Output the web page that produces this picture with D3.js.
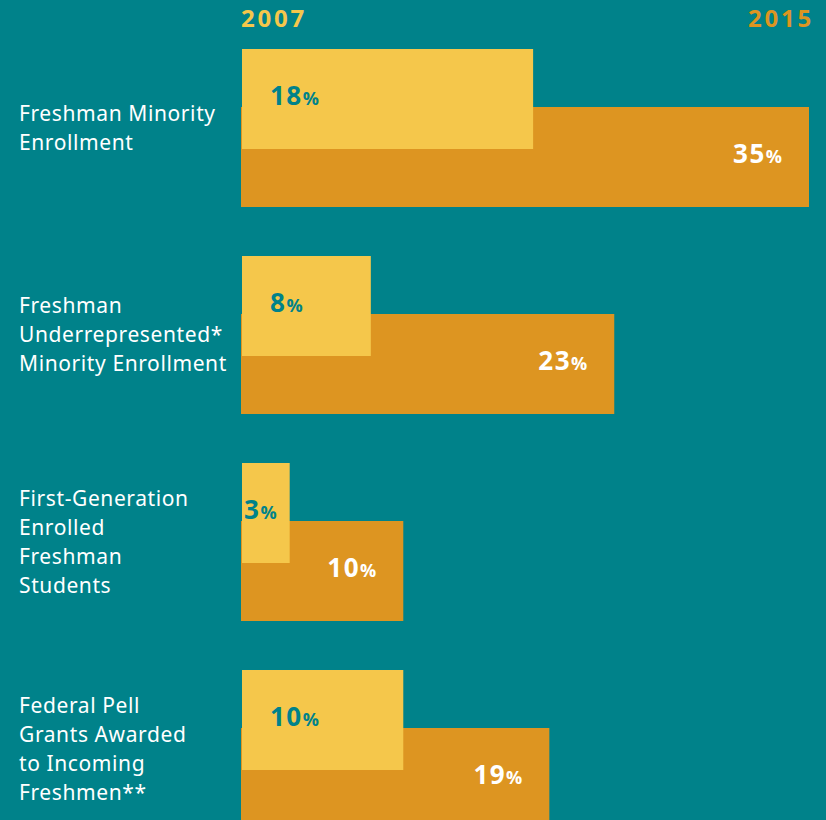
<!DOCTYPE html>
<html>
<head>
<meta charset="UTF-8">
<style>
  body { margin: 0; background: #00828a; }
  svg { display: block; }
  .cat { font-family: 'Noto Sans', sans-serif; font-size: 21px; fill: white; letter-spacing: 0.6px; }
  .year { font-family: 'Open Sans', sans-serif; font-weight: 700; font-size: 24px; letter-spacing: 2.8px; }
  .val { font-family: 'Open Sans', sans-serif; font-weight: 700; font-size: 26px; letter-spacing: 1.5px; }
  .pct { font-size: 18px; letter-spacing: 0; }
</style>
</head>
<body>
<script src="https://d3js.org/d3.v7.min.js"></script>
<script>
const categories = [
  ["Freshman Minority", "Enrollment"],
  ["Freshman", "Underrepresented*", "Minority Enrollment"],
  ["First-Generation", "Enrolled", "Freshman", "Students"],
  ["Federal Pell", "Grants Awarded", "to Incoming", "Freshmen**"]
];
const years = ["2007", "2015"];
const values2007 = [18, 8, 3, 10];
const values2015 = [35, 23, 10, 19];

const width = 826, height = 820;
const colBg = "#00828a", col07 = "#f5c74b", col15 = "#dd9521";

const svg = d3.select("body").append("svg")
  .attr("width", width).attr("height", height);

svg.append("rect").attr("width", width).attr("height", height).attr("fill", colBg);

const x = d3.scaleLinear().domain([0, 35]).range([241, 809]);
const y = d3.scaleBand().domain(d3.range(categories.length)).range([49, 49 + 207 * 4]);
const barH = 100, offset = 58;

// year headers
svg.append("text").attr("class", "year").attr("x", 241).attr("y", 27)
  .attr("fill", col07).text(years[0]);
svg.append("text").attr("class", "year").attr("x", 814).attr("y", 27)
  .attr("text-anchor", "end").attr("fill", col15).text(years[1]);

const g = svg.selectAll("g.grp").data(categories).join("g").attr("class", "grp");

// 2015 bars first, 2007 on top
g.append("rect")
  .attr("x", x(0)).attr("y", (d, i) => y(i) + offset)
  .attr("width", (d, i) => x(values2015[i]) - x(0)).attr("height", barH)
  .attr("fill", col15);
g.append("rect")
  .attr("x", x(0) + 1).attr("y", (d, i) => y(i))
  .attr("width", (d, i) => x(values2007[i]) - x(0) - 1).attr("height", barH)
  .attr("fill", col07);

// value labels
function label(sel, getVal, xPos, yPos, fill, anchor) {
  const t = sel.append("text").attr("class", "val")
    .attr("x", xPos).attr("y", yPos).attr("fill", fill).attr("text-anchor", anchor);
  t.append("tspan").text(getVal);
  t.append("tspan").attr("class", "pct").text("%");
}
label(g, (d, i) => values2007[i],
  (d, i) => (x(values2007[i]) - x(0) < 60 ? x(0) + 3 : x(0) + 29),
  (d, i) => y(i) + 56, colBg, "start");
label(g, (d, i) => values2015[i],
  (d, i) => x(values2015[i]) - 27,
  (d, i) => y(i) + offset + 56, "white", "end");

// category labels
const lineH = 29;
g.each(function(d, i) {
  const cy = y(i) + (offset + barH) / 2;
  const t = d3.select(this).append("text").attr("class", "cat");
  d.forEach((line, j) => {
    t.append("tspan").attr("x", 19)
      .attr("y", cy - (d.length - 1) * lineH / 2 + j * lineH + 7)
      .text(line);
  });
});
</script>
</body>
</html>
